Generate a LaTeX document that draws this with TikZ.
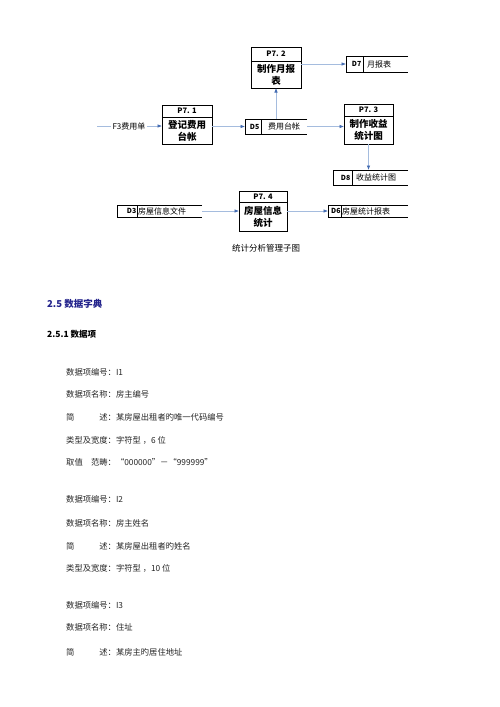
\documentclass[tikz,border=0pt]{standalone}
\usepackage{fontspec}
\setmainfont{Noto Sans CJK SC}
\usetikzlibrary{arrows.meta}
\definecolor{lineblue}{RGB}{165,188,222}
\definecolor{tipblue}{RGB}{68,108,178}
\definecolor{headblue}{RGB}{35,35,140}
\tikzset{
  flow/.style={draw=lineblue, line width=0.6pt, -{Latex[length=4.5pt,width=3.5pt,color=tipblue]}},
  pbox/.style={draw=black, line width=0.9pt, inner sep=0pt, outer sep=0pt},
  ptitle/.style={font=\bfseries\fontsize{7.5}{9}\selectfont},
  pbody/.style={font=\bfseries\fontsize{9.5}{12}\selectfont, align=center},
  snode/.style={inner sep=0pt, outer sep=0pt},
  sline/.style={draw=black, line width=0.9pt},
  sid/.style={font=\bfseries\fontsize{7}{8}\selectfont, inner sep=0pt, anchor=east},
  stext/.style={font=\fontsize{8}{9}\selectfont, inner sep=0pt, anchor=west},
  flabel/.style={font=\fontsize{8}{9}\selectfont, fill=white, inner sep=1.5pt},
  caption/.style={font=\fontsize{8.5}{10}\selectfont, inner sep=0pt},
  h1/.style={font=\bfseries\fontsize{9.5}{11}\selectfont, text=headblue, anchor=west, inner sep=0pt},
  h2/.style={font=\bfseries\fontsize{8.5}{10}\selectfont, anchor=west, inner sep=0pt},
  body/.style={font=\fontsize{8.3}{10}\selectfont, anchor=west, inner sep=0pt, text=black!85},
}
\begin{document}
\begin{tikzpicture}[x=1pt,y=-1pt]
\useasboundingbox[fill=white] (0,0) rectangle (500,707);

% ---- processes ----
\node[pbox, minimum width=50pt, minimum height=14pt, ptitle] (p72h) at (276,54) {P7. 2};
\node[pbox, minimum width=50pt, minimum height=27pt, pbody] (p72) at (276,74.5) {制作月报\\表};

\node[pbox, minimum width=50pt, minimum height=12pt, ptitle] (p71h) at (187,111) {P7. 1};
\node[pbox, minimum width=50pt, minimum height=27pt, pbody] (p71) at (187,130.5) {登记费用\\台帐};

\node[pbox, minimum width=49pt, minimum height=12pt, ptitle] (p73h) at (368.5,110) {P7. 3};
\node[pbox, minimum width=49pt, minimum height=28pt, pbody] (p73) at (368.5,130) {制作收益\\统计图};

\node[pbox, minimum width=48pt, minimum height=11pt, ptitle] (p74h) at (263,196.5) {P7. 4};
\node[pbox, minimum width=48pt, minimum height=29pt, pbody] (p74) at (263,216.5) {房屋信息\\统计};

% ---- data stores ----
\node[snode, minimum width=62pt, minimum height=16pt] (d7) at (377,64) {};
\draw[sline] (d7.north east) -- (d7.north west) -- (d7.south west) -- (d7.south east);
\draw[sline] (d7.north west) ++(17,0) -- ++(0,16);
\path (d7.west) ++(15.5,0) node[sid] (d7id) {D7};
\path (d7.west) ++(21,0) node[stext] (d7t) {月报表};

\node[snode, minimum width=62pt, minimum height=15pt] (d5) at (276,126.5) {};
\draw[sline] (d5.north east) -- (d5.north west) -- (d5.south west) -- (d5.south east);
\draw[sline] (d5.north west) ++(16,0) -- ++(0,15);
\path (d5.west) ++(14.5,0) node[sid] (d5id) {D5};
\path (d5.west) ++(23,0) node[stext] (d5t) {费用台帐};

\node[snode, minimum width=75pt, minimum height=15pt] (d8) at (370.5,177.5) {};
\draw[sline] (d8.north east) -- (d8.north west) -- (d8.south west) -- (d8.south east);
\draw[sline] (d8.north west) ++(19,0) -- ++(0,15);
\path (d8.west) ++(17.5,0) node[sid] (d8id) {D8};
\path (d8.west) ++(23,0) node[stext] (d8t) {收益统计图};

\node[snode, minimum width=85pt, minimum height=12pt] (d3) at (159.5,211) {};
\draw[sline] (d3.north east) -- (d3.north west) -- (d3.south west) -- (d3.south east);
\draw[sline] (d3.north west) ++(20,0) -- ++(0,12);
\path (d3.west) ++(19.5,0) node[sid] (d3id) {D3};
\path (d3.west) ++(21,0) node[stext] (d3t) {房屋信息文件};

\node[snode, minimum width=80pt, minimum height=12pt] (d6) at (368,211) {};
\draw[sline] (d6.north east) -- (d6.north west) -- (d6.south west) -- (d6.south east);
\draw[sline] (d6.north west) ++(13,0) -- ++(0,12);
\path (d6.west) ++(12.8,0) node[sid] (d6id) {D6};
\path (d6.west) ++(14,0) node[stext] (d6t) {房屋统计报表};

% ---- flows ----
\coordinate (f3s) at (97,126);
\draw[flow] (f3s) -- (p71.west |- f3s);
\node[flabel] (f3) at (129,126) {F3费用单};
\draw[flow] (p71.east |- d5) -- (d5.west);
\draw[flow] (d5.north) -- (p72.south);
\draw[flow] (p72.east |- d7) -- (d7.west);
\draw[flow] (d5.east) -- (p73.west |- d5);
\draw[flow] (p73.south) -- (p73.south |- d8.north);
\draw[flow] (d3.east) -- (p74.west |- d3);
\draw[flow] (p74.east |- d6) -- (d6.west);

\node[caption] (cap) at (266,248) {统计分析管理子图};

% ---- text ----
\node[h1] (t25) at (47,304) {2.5 数据字典};
\node[h2] (t251) at (47,334) {2.5.1 数据项};

\node[body] (a1) at (66,372) {数据项编号：I1};
\node[body] (a2) at (66,394) {数据项名称：房主编号};
\node[body] (a3) at (66,417) {简\hspace{3em}述：某房屋出租者旳唯一代码编号};
\node[body] (a4) at (66,440) {类型及宽度：字符型 ，6 位};
\node[body] (a5) at (66,462) {取值\hspace{1em}范畴：“000000”－“999999”};

\node[body] (b1) at (66,499) {数据项编号：I2};
\node[body] (b2) at (66,523) {数据项名称：房主姓名};
\node[body] (b3) at (66,546) {简\hspace{3em}述：某房屋出租者旳姓名};
\node[body] (b4) at (66,568) {类型及宽度：字符型 ，10 位};

\node[body] (c1) at (66,605) {数据项编号：I3};
\node[body] (c2) at (66,627) {数据项名称：住址};
\node[body] (c3) at (66,652) {简\hspace{3em}述：某房主旳居住地址};
\end{tikzpicture}
\end{document}
